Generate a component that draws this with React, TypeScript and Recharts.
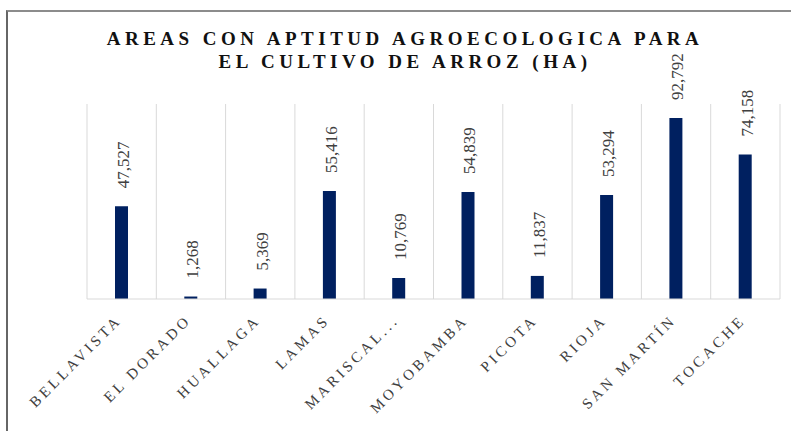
import { BarChart, Bar, XAxis, YAxis, CartesianGrid, LabelList } from "recharts"

const provinces = [
  "BELLAVISTA",
  "EL DORADO",
  "HUALLAGA",
  "LAMAS",
  "MARISCAL...",
  "MOYOBAMBA",
  "PICOTA",
  "RIOJA",
  "SAN MARTÍN",
  "TOCACHE",
]

const hectares = [47527, 1268, 5369, 55416, 10769, 54839, 11837, 53294, 92792, 74158]

const titleLines = ["AREAS CON APTITUD AGROECOLOGICA PARA", "EL CULTIVO DE ARROZ (HA)"]

const data = provinces.map((name, i) => ({ name, value: hectares[i] }))

const serif = "Liberation Serif, Times New Roman, Times, DejaVu Serif, serif"

const XTick = (props: any) => {
  const { x, y, payload } = props
  return (
    <g transform={`translate(${x + 1},${y + 22})`}>
      <text
        transform="rotate(-45)"
        textAnchor="end"
        style={{ fontFamily: serif }}
        fontSize={15}
        letterSpacing={3.4}
        fill="#404040"
      >
        {payload.value}
      </text>
    </g>
  )
}

const ValueLabel = (props: any) => {
  const { x, y, width, value } = props
  const cx = x + width / 2 + 7.5
  const cy = y - 18
  return (
    <text
      x={cx}
      y={cy}
      transform={`rotate(-90, ${cx}, ${cy})`}
      textAnchor="start"
      style={{ fontFamily: serif }}
      fontSize={17}
      fill="#404040"
    >
      {Number(value).toLocaleString("en-US")}
    </text>
  )
}

export default function App() {
  return (
    <div style={{ position: "absolute", left: 0, top: 0, width: 791, height: 431, background: "#fff", fontFamily: serif }}>
      <div
        style={{
          position: "absolute",
          left: 6,
          top: 10,
          width: 785,
          height: 421,
          borderTop: "2px solid #8c8c8c",
          borderLeft: "2px solid #666",
          boxSizing: "border-box",
        }}
      />
      <div
        style={{
          position: "absolute",
          left: 0,
          top: 27,
          width: 810,
          textAlign: "center",
          fontFamily: serif,
          fontWeight: "bold",
          fontSize: 19,
          letterSpacing: 4.5,
          lineHeight: "23px",
          color: "#111",
        }}
      >
        {titleLines.map((t) => (
          <div key={t}>{t}</div>
        ))}
      </div>
      <div style={{ position: "absolute", left: 0, top: 0 }}>
        <BarChart width={791} height={431} data={data} margin={{ top: 104, right: 11, left: 87, bottom: 0 }}>
          <CartesianGrid
            horizontal={false}
            stroke="#d9d9d9"
            verticalCoordinatesGenerator={({ offset }: any) =>
              provinces.map((_, i) => offset.left + (i * offset.width) / provinces.length).concat(offset.left + offset.width)
            }
          />
          <XAxis
            dataKey="name"
            height={132}
            interval={0}
            tickLine={false}
            tickSize={0}
            tickMargin={0}
            axisLine={{ stroke: "#d9d9d9" }}
            tick={<XTick />}
          />
          <YAxis hide domain={[0, 100000]} />
          <Bar dataKey="value" fill="#002060" barSize={13} isAnimationActive={false}>
            <LabelList dataKey="value" content={<ValueLabel />} />
          </Bar>
        </BarChart>
      </div>
    </div>
  )
}
